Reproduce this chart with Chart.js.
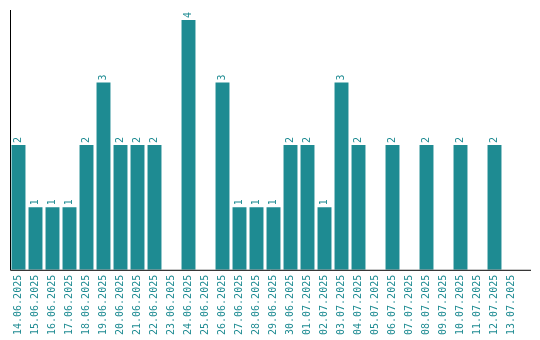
<!DOCTYPE html>
<html>
<head>
<meta charset="utf-8">
<script src="https://cdn.jsdelivr.net/npm/chart.js@4"></script>
<style>
  body { margin: 0; background: #fff; }
  #wrap { width: 540px; height: 340px; }
</style>
</head>
<body>
<div id="wrap"><canvas id="grafico"></canvas></div>
<script>
// dias e quantidades
var dias = ['14.06.2025', '15.06.2025', '16.06.2025', '17.06.2025', '18.06.2025', '19.06.2025',
    '20.06.2025', '21.06.2025', '22.06.2025', '23.06.2025', '24.06.2025', '25.06.2025',
    '26.06.2025', '27.06.2025', '28.06.2025', '29.06.2025', '30.06.2025', '01.07.2025',
    '02.07.2025', '03.07.2025', '04.07.2025', '05.07.2025', '06.07.2025', '07.07.2025',
    '08.07.2025', '09.07.2025', '10.07.2025', '11.07.2025', '12.07.2025', '13.07.2025'];
var quantidades = [2, 1, 1, 1, 2, 3, 2, 2, 2, 0, 4, 0, 3, 1, 1, 1, 2, 2, 1, 3, 2, 0, 2, 0, 2, 0, 2, 0, 2, 0];

var corBarra = '#1e8b92';
var fonte = '"DejaVu Sans Mono", monospace';

// rótulos de valor em cima das barras, na vertical + linhas dos eixos
var rotulosValor = {
    id: 'rotulosValor',
    afterDatasetsDraw: function(chart) {
        var ctx = chart.ctx;
        var area = chart.chartArea;
        var meta = chart.getDatasetMeta(0);
        ctx.save();
        ctx.font = '10px ' + fonte;
        ctx.fillStyle = corBarra;
        ctx.textAlign = 'left';
        ctx.textBaseline = 'middle';
        meta.data.forEach(function(barra, i) {
            var v = quantidades[i];
            if (!v) return;
            ctx.save();
            ctx.translate(barra.x, barra.y - 2);
            ctx.rotate(-Math.PI / 2);
            ctx.fillText(String(v), 0, 0);
            ctx.restore();
        });
        // eixos
        ctx.strokeStyle = '#000';
        ctx.lineWidth = 1;
        ctx.beginPath();
        ctx.moveTo(area.left + 0.5, area.top - 10);
        ctx.lineTo(area.left + 0.5, area.bottom + 0.5);
        ctx.lineTo(area.right + 11, area.bottom + 0.5);
        ctx.stroke();
        ctx.restore();
    }
};

var ctx = document.getElementById('grafico').getContext('2d');
new Chart(ctx, {
    type: 'bar',
    data: {
        labels: dias,
        datasets: [{
            data: quantidades,
            backgroundColor: corBarra,
            barPercentage: 0.82,
            categoryPercentage: 1
        }]
    },
    options: {
        responsive: true,
        maintainAspectRatio: false,
        animation: false,
        layout: { padding: { top: 20, right: 20, left: 10, bottom: 0 } },
        plugins: {
            legend: { display: false },
            tooltip: { enabled: false }
        },
        scales: {
            x: {
                grid: { display: false, drawTicks: false },
                border: { display: false },
                ticks: {
                    color: corBarra,
                    font: { family: fonte, size: 10 },
                    minRotation: 90,
                    maxRotation: 90,
                    autoSkip: false,
                    padding: 5
                }
            },
            y: {
                min: 0,
                max: 4,
                display: false
            }
        }
    },
    plugins: [rotulosValor]
});
</script>
</body>
</html>
